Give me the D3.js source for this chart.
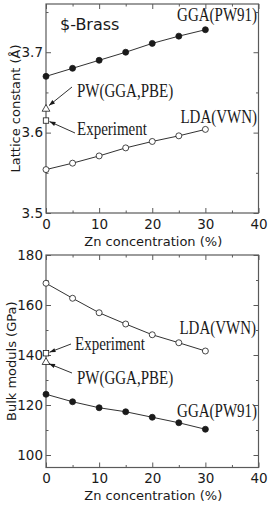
<!DOCTYPE html>
<html><head><meta charset="utf-8">
<script src="https://cdn.jsdelivr.net/npm/d3@7"></script>
<style>
body{margin:0;background:#fff;}
svg{display:block;}
</style></head>
<body>
<svg id="c" width="268" height="506"></svg>
<script>
// ---- data ----
const zn = [0, 5, 10, 15, 20, 25, 30];
const latticeGGA = [3.670, 3.680, 3.690, 3.700, 3.711, 3.720, 3.728];
const latticeLDA = [3.554, 3.562, 3.571, 3.581, 3.589, 3.596, 3.604];
const latticePBE = 3.630;
const latticeExp = 3.615;
const bulkLDA = [168.7, 162.7, 156.9, 152.4, 148.1, 144.9, 141.6];
const bulkGGA = [124.3, 121.3, 118.9, 117.3, 115.1, 112.9, 110.3];
const bulkExp = 140.7;
const bulkPBE = 137.3;
const xTicks = [0, 10, 20, 30, 40];
const xMinor = [5, 15, 25, 35];
const latTicks = [3.5, 3.6, 3.7];
const latMinor = [3.55, 3.65, 3.75];
const bulkTicks = [100, 120, 140, 160, 180];
const bulkMinor = [110, 130, 150, 170];

const svg = d3.select('#c');
const axisCol = '#5a5a5a';
const inkCol = '#1a1a1a';
const L = 46, R = 258.5;

function panel(cfg){
  const x = d3.scaleLinear().domain([0,40]).range([L,R]);
  const y = d3.scaleLinear().domain(cfg.ydom).range([cfg.bottom, cfg.top]);
  const g = svg.append('g');
  const mk = (axis, vals, size, fmt) => axis.tickValues(vals).tickSizeInner(size).tickSizeOuter(0).tickPadding(3).tickFormat(fmt);
  const styleAx = sel => {
    sel.select('.domain').remove();
    sel.selectAll('line').attr('stroke', axisCol);
    sel.selectAll('text').attr('font-family','DejaVu Sans').attr('font-size',13.5).attr('fill',inkCol);
  };
  g.append('g').attr('transform',`translate(0,${cfg.bottom})`).call(mk(d3.axisBottom(x), xTicks, -5, d3.format('d'))).call(styleAx)
    .selectAll('text').attr('dy','0.95em');
  g.append('g').attr('transform',`translate(0,${cfg.bottom})`).call(mk(d3.axisBottom(x), xMinor, -2.5, '')).call(styleAx);
  g.append('g').attr('transform',`translate(0,${cfg.top})`).call(mk(d3.axisTop(x), xTicks, -5, '')).call(styleAx);
  g.append('g').attr('transform',`translate(0,${cfg.top})`).call(mk(d3.axisTop(x), xMinor, -2.5, '')).call(styleAx);
  g.append('g').attr('transform',`translate(${L},0)`).call(mk(d3.axisLeft(y), cfg.ticks, -5, cfg.fmt)).call(styleAx);
  g.append('g').attr('transform',`translate(${L},0)`).call(mk(d3.axisLeft(y), cfg.minor, -2.5, '')).call(styleAx);
  g.append('g').attr('transform',`translate(${R},0)`).call(mk(d3.axisRight(y), cfg.ticks, -5, '')).call(styleAx);
  g.append('g').attr('transform',`translate(${R},0)`).call(mk(d3.axisRight(y), cfg.minor, -2.5, '')).call(styleAx);
  g.append('rect').attr('x',L).attr('y',cfg.top).attr('width',R-L).attr('height',cfg.bottom-cfg.top)
    .attr('fill','none').attr('stroke',axisCol).attr('stroke-width',1.2);
  g.append('text').attr('x',(L+R)/2+1).attr('y',cfg.xlabY).attr('text-anchor','middle')
    .attr('font-family','DejaVu Sans').attr('font-size',13).attr('fill',inkCol).text('Zn concentration (%)');
  g.append('text').attr('transform',`translate(${cfg.ylabX},${(cfg.top+cfg.bottom)/2}) rotate(-90)`).attr('text-anchor','middle')
    .attr('font-family','DejaVu Sans').attr('font-size',13).attr('fill',inkCol).text(cfg.ylab);
  const line = d3.line().x((d,i)=>x(zn[i])).y(d=>y(d));
  cfg.series.forEach(s=>{
    g.append('path').attr('d',line(s.vals)).attr('fill','none').attr('stroke',inkCol).attr('stroke-width',0.9);
    g.selectAll(null).data(s.vals).join('circle').attr('cx',(d,i)=>x(zn[i])).attr('cy',d=>y(d)).attr('r',3)
      .attr('fill',s.filled?inkCol:'#fff').attr('stroke',inkCol).attr('stroke-width',0.8);
  });
  const tri = d3.symbol().type(d3.symbolTriangle).size(26);
  g.append('path').attr('d',tri()).attr('transform',`translate(${x(0)},${y(cfg.pbe)+0.5})`)
    .attr('fill','#fff').attr('stroke',inkCol).attr('stroke-width',0.8);
  g.append('rect').attr('x',x(0)-2.7).attr('y',y(cfg.exp)-2.7).attr('width',5.4).attr('height',5.4)
    .attr('fill','#fff').attr('stroke',inkCol).attr('stroke-width',0.8);
  return {g,x,y};
}

svg.append('defs').append('marker').attr('id','ah').attr('viewBox','0 0 10 10').attr('refX',10).attr('refY',5)
  .attr('markerWidth',7).attr('markerHeight',6).attr('markerUnits','userSpaceOnUse').attr('orient','auto')
  .append('path').attr('d','M0,1.5L10,5L0,8.5Z').attr('fill',inkCol);

function label(g, txt, xp, yp, anchor){
  g.append('text').attr('transform',`translate(${xp},${yp}) scale(1,1.2)`).attr('text-anchor',anchor||'start')
    .attr('font-family','Liberation Serif').attr('font-size',15).attr('fill',inkCol).text(txt);
}
function arrow(g, x1,y1,x2,y2){
  g.append('line').attr('x1',x1).attr('y1',y1).attr('x2',x2).attr('y2',y2)
    .attr('stroke',inkCol).attr('stroke-width',0.9).attr('marker-end','url(#ah)');
}

const topP = panel({ydom:[3.5,3.76], top:4, bottom:213, ticks:latTicks, minor:latMinor, fmt:d3.format('.1f'),
  ylab:'Lattice constant (Å)', ylabX:20, xlabY:246, pbe:latticePBE, exp:latticeExp,
  series:[{vals:latticeGGA,filled:true},{vals:latticeLDA,filled:false}]});
const botP = panel({ydom:[95,180], top:255, bottom:467.5, ticks:bulkTicks, minor:bulkMinor, fmt:d3.format('d'),
  ylab:'Bulk moduls (GPa)', ylabX:16, xlabY:500, pbe:bulkPBE, exp:bulkExp,
  series:[{vals:bulkLDA,filled:false},{vals:bulkGGA,filled:true}]});

topP.g.append('text').attr('x',60).attr('y',30).attr('font-family','DejaVu Sans').attr('font-size',16)
  .attr('fill',inkCol).text('$-Brass');
label(topP.g,'GGA(PW91)',257,21,'end');
label(topP.g,'LDA(VWN)',257,123,'end');
label(topP.g,'PW(GGA,PBE)',77,97);
label(topP.g,'Experiment',77,135);
arrow(topP.g,72,87,topP.x(0)+3,topP.y(latticePBE)-3);
arrow(topP.g,75,133,topP.x(0)+3.5,topP.y(latticeExp)+1);
label(botP.g,'LDA(VWN)',256,334,'end');
label(botP.g,'GGA(PW91)',257,417,'end');
label(botP.g,'Experiment',75,350);
label(botP.g,'PW(GGA,PBE)',77,384);
arrow(botP.g,71,344,botP.x(0)+3.5,botP.y(bulkExp)-1);
arrow(botP.g,72,373,botP.x(0)+3,botP.y(bulkPBE)+2);
</script>
</body></html>
